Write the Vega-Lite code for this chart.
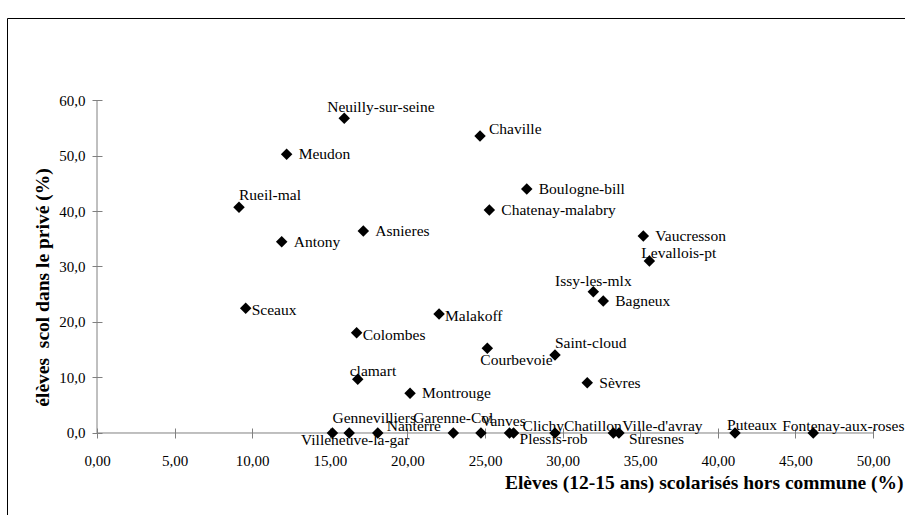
{
  "$schema": "https://vega.github.io/schema/vega-lite/v6.json",
  "width": 903,
  "height": 502,
  "autosize": {"type": "none"},
  "padding": {"left": 7, "top": 18, "right": -5, "bottom": -5},
  "background": "white",
  "config": {"view": {"stroke": "#000000", "strokeWidth": 1}, "font": "Liberation Serif"},
  "datasets": {
    "towns": [
      {"name": "Neuilly-sur-seine", "x": 15.93, "y": 56.70},
      {"name": "Meudon", "x": 12.22, "y": 50.22},
      {"name": "Rueil-mal", "x": 9.15, "y": 40.67},
      {"name": "Antony", "x": 11.90, "y": 34.47},
      {"name": "Asnieres", "x": 17.16, "y": 36.40},
      {"name": "Chaville", "x": 24.68, "y": 53.51},
      {"name": "Boulogne-bill", "x": 27.69, "y": 43.96},
      {"name": "Chatenay-malabry", "x": 25.28, "y": 40.18},
      {"name": "Vaucresson", "x": 35.20, "y": 35.50},
      {"name": "Levallois-pt", "x": 35.59, "y": 30.99},
      {"name": "Issy-les-mlx", "x": 31.98, "y": 25.46},
      {"name": "Bagneux", "x": 32.62, "y": 23.78},
      {"name": "Malakoff", "x": 22.04, "y": 21.44},
      {"name": "Sceaux", "x": 9.58, "y": 22.47},
      {"name": "Colombes", "x": 16.73, "y": 18.07},
      {"name": "Courbevoie", "x": 25.15, "y": 15.26},
      {"name": "Saint-cloud", "x": 29.51, "y": 14.05},
      {"name": "clamart", "x": 16.80, "y": 9.68},
      {"name": "Montrouge", "x": 20.17, "y": 7.15},
      {"name": "Sèvres", "x": 31.59, "y": 9.06},
      {"name": "Gennevilliers", "x": 15.17, "y": 0},
      {"name": "Villeneuve-la-gar", "x": 16.25, "y": 0},
      {"name": "Nanterre", "x": 18.09, "y": 0},
      {"name": "Garenne-Col", "x": 22.96, "y": 0},
      {"name": "Vanves", "x": 24.74, "y": 0},
      {"name": "Clichy", "x": 26.84, "y": 0},
      {"name": "Plessis-rob", "x": 26.58, "y": 0},
      {"name": "Chatillon", "x": 29.51, "y": 0},
      {"name": "Ville-d'avray", "x": 33.27, "y": 0},
      {"name": "Suresnes", "x": 33.63, "y": 0},
      {"name": "Puteaux", "x": 41.11, "y": 0},
      {"name": "Fontenay-aux-roses", "x": 46.15, "y": 0}
    ],
    "xaxisline": [{"x": 0, "y": 0}, {"x": 50, "y": 0}],
    "yaxisline": [{"x": 0, "y": 0}, {"x": 0, "y": 60}]
  },
  "data": {"name": "towns"},
  "encoding": {
    "x": {
      "field": "x", "type": "quantitative",
      "scale": {"domain": [-5.799, 52.384], "nice": false, "zero": false},
      "axis": {
        "orient": "bottom", "offset": -92, "values": [0, 5, 10, 15, 20, 25, 30, 35, 40, 45, 50],
        "labelExpr": "replace(format(datum.value, '.2f'), '.', ',')",
        "domain": false, "grid": false, "ticks": true, "tickSize": 10, "tickColor": "#808080", "tickWidth": 1,
        "labelFont": "Liberation Serif", "labelFontSize": 15, "labelColor": "#000000", "labelPadding": 15,
        "labelFlush": false, "labelOverlap": false, "labelBound": false,
        "title": "Elèves (12-15 ans) scolarisés hors commune (%)",
        "titleFont": "Liberation Serif", "titleFontSize": 19.5, "titleFontWeight": "bold", "titleColor": "#000000",
        "titleX": 896, "titleY": 54, "titleAlign": "right", "titleBaseline": "middle"
      }
    },
    "y": {
      "field": "y", "type": "quantitative",
      "scale": {"domain": [-15.676, 74.775], "nice": false, "zero": false},
      "axis": {
        "orient": "left", "offset": -95, "values": [0, 10, 20, 30, 40, 50, 60],
        "labelExpr": "replace(format(datum.value, '.1f'), '.', ',')",
        "domain": false, "grid": false, "ticks": true, "tickSize": 10, "tickColor": "#808080", "tickWidth": 1,
        "labelFont": "Liberation Serif", "labelFontSize": 15, "labelColor": "#000000", "labelPadding": 7,
        "labelFlush": false, "labelOverlap": false, "labelBound": false,
        "title": "élèves\u00a0 scol dans le privé (%)",
        "titleFont": "Liberation Serif", "titleFontSize": 19.5, "titleFontWeight": "bold", "titleColor": "#000000",
        "titleX": -60, "titleY": 269, "titleAngle": -90, "titleAlign": "center", "titleBaseline": "middle"
      }
    }
  },
  "layer": [
    {
      "data": {"name": "xaxisline"},
      "mark": {"type": "line", "color": "#808080", "strokeWidth": 1}
    },
    {
      "data": {"name": "yaxisline"},
      "mark": {"type": "line", "color": "#808080", "strokeWidth": 1}
    },
    {
      "mark": {"type": "point", "shape": "diamond", "filled": true, "size": 132, "color": "#000000", "opacity": 1, "strokeWidth": 0}
    },
    {
      "transform": [{"filter": {"field": "name", "oneOf": ["Meudon", "Antony", "Asnieres", "Boulogne-bill", "Chatenay-malabry", "Bagneux", "Sèvres", "Montrouge", "Vaucresson"]}}],
      "mark": {"type": "text", "align": "left", "baseline": "middle", "dx": 12, "dy": 0, "font": "Liberation Serif", "fontSize": 15.5, "color": "#000000"},
      "encoding": {"text": {"field": "name"}}
    },
    {
      "transform": [{"filter": {"field": "name", "oneOf": ["Sceaux", "Colombes", "Malakoff"]}}],
      "mark": {"type": "text", "align": "left", "baseline": "middle", "dx": 6, "dy": 2, "font": "Liberation Serif", "fontSize": 15.5, "color": "#000000"},
      "encoding": {"text": {"field": "name"}}
    },
    {
      "transform": [{"filter": {"field": "name", "oneOf": ["Chaville", "Nanterre", "Chatillon", "Ville-d'avray", "Clichy"]}}],
      "mark": {"type": "text", "align": "left", "baseline": "middle", "dx": 9, "dy": -7, "font": "Liberation Serif", "fontSize": 15.5, "color": "#000000"},
      "encoding": {"text": {"field": "name"}}
    },
    {
      "transform": [{"filter": {"field": "name", "oneOf": ["Rueil-mal", "Saint-cloud", "Vanves"]}}],
      "mark": {"type": "text", "align": "left", "baseline": "middle", "dx": 0, "dy": -12, "font": "Liberation Serif", "fontSize": 15.5, "color": "#000000"},
      "encoding": {"text": {"field": "name"}}
    },
    {
      "transform": [{"filter": {"field": "name", "oneOf": ["Gennevilliers"]}}],
      "mark": {"type": "text", "align": "left", "baseline": "middle", "dx": 0, "dy": -15, "font": "Liberation Serif", "fontSize": 15.5, "color": "#000000"},
      "encoding": {"text": {"field": "name"}}
    },
    {
      "transform": [{"filter": {"field": "name", "oneOf": ["Levallois-pt", "clamart", "Puteaux"]}}],
      "mark": {"type": "text", "align": "left", "baseline": "middle", "dx": -8, "dy": -8, "font": "Liberation Serif", "fontSize": 15.5, "color": "#000000"},
      "encoding": {"text": {"field": "name"}}
    },
    {
      "transform": [{"filter": {"field": "name", "oneOf": ["Neuilly-sur-seine"]}}],
      "mark": {"type": "text", "align": "left", "baseline": "middle", "dx": -17, "dy": -11, "font": "Liberation Serif", "fontSize": 15.5, "color": "#000000"},
      "encoding": {"text": {"field": "name"}}
    },
    {
      "transform": [{"filter": {"field": "name", "oneOf": ["Fontenay-aux-roses"]}}],
      "mark": {"type": "text", "align": "left", "baseline": "middle", "dx": -31, "dy": -7, "font": "Liberation Serif", "fontSize": 15.5, "color": "#000000"},
      "encoding": {"text": {"field": "name"}}
    },
    {
      "transform": [{"filter": {"field": "name", "oneOf": ["Issy-les-mlx"]}}],
      "mark": {"type": "text", "align": "center", "baseline": "middle", "dx": 0, "dy": -11, "font": "Liberation Serif", "fontSize": 15.5, "color": "#000000"},
      "encoding": {"text": {"field": "name"}}
    },
    {
      "transform": [{"filter": {"field": "name", "oneOf": ["Garenne-Col"]}}],
      "mark": {"type": "text", "align": "center", "baseline": "middle", "dx": 0, "dy": -15, "font": "Liberation Serif", "fontSize": 15.5, "color": "#000000"},
      "encoding": {"text": {"field": "name"}}
    },
    {
      "transform": [{"filter": {"field": "name", "oneOf": ["Plessis-rob", "Suresnes"]}}],
      "mark": {"type": "text", "align": "left", "baseline": "middle", "dx": 10, "dy": 6, "font": "Liberation Serif", "fontSize": 15.5, "color": "#000000"},
      "encoding": {"text": {"field": "name"}}
    },
    {
      "transform": [{"filter": {"field": "name", "oneOf": ["Courbevoie"]}}],
      "mark": {"type": "text", "align": "left", "baseline": "middle", "dx": -7, "dy": 12, "font": "Liberation Serif", "fontSize": 15.5, "color": "#000000"},
      "encoding": {"text": {"field": "name"}}
    },
    {
      "transform": [{"filter": {"field": "name", "oneOf": ["Villeneuve-la-gar"]}}],
      "mark": {"type": "text", "align": "center", "baseline": "middle", "dx": 6, "dy": 7, "font": "Liberation Serif", "fontSize": 15.5, "color": "#000000"},
      "encoding": {"text": {"field": "name"}}
    }
  ]
}
